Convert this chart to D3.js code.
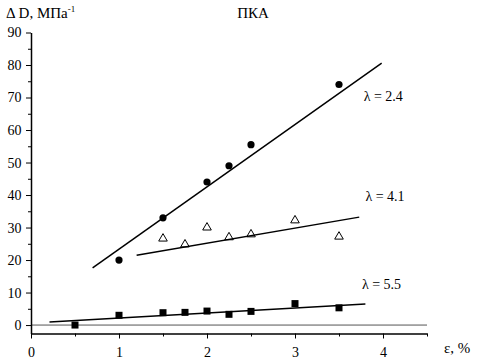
<!DOCTYPE html>
<html><head><meta charset="utf-8">
<script src="https://cdn.jsdelivr.net/npm/d3@7"></script>
<style>body{margin:0;background:#fff}svg{display:block}</style>
</head><body><svg id="c" width="486" height="361"></svg>
<script>
const xTicks = [0, 1, 2, 3, 4];
const yTicks = [0, 10, 20, 30, 40, 50, 60, 70, 80, 90];
const s24x = [1, 1.5, 2, 2.25, 2.5, 3.5];
const s24y = [20, 33, 44, 49, 55.5, 74];
const fit24 = [[0.7, 17.6], [3.985, 80.6]];
const s41x = [1.5, 1.75, 2, 2.25, 2.5, 3, 3.5];
const s41y = [26.6, 24.8, 30, 27, 27.9, 32.2, 27.2];
const fit41 = [[1.2, 21.5], [3.73, 33.2]];
const s55x = [0.5, 1, 1.5, 1.75, 2, 2.25, 2.5, 3, 3.5];
const s55y = [0, 3, 3.8, 3.9, 4.3, 3.3, 4.2, 6.6, 5.3];
const fit55 = [[0.21, 0.95], [3.8, 6.5]];
const labels = [{t: "λ = 2.4", x: 3.78, y: 69}, {t: "λ = 4.1", x: 3.8, y: 38.3}, {t: "λ = 5.5", x: 3.76, y: 11}];
</script>
<script>
const FF = "Liberation Serif";
const svg = d3.select("#c").style("font-family", FF);
const x = d3.scaleLinear().domain([0, 4.5]).range([31, 427]);
const y = d3.scaleLinear().domain([-2.6, 90]).range([333.5, 32.5]);

svg.append("line").attr("x1", x(0)).attr("x2", x(4.5)).attr("y1", y(0)).attr("y2", y(0))
  .attr("stroke", "#555").attr("stroke-width", 1);

const gx = svg.append("g").attr("transform", `translate(0,${y(-2.6)})`)
  .call(d3.axisBottom(x).tickValues(d3.range(0, 4.51, 0.5)).tickSize(5).tickSizeOuter(0)
    .tickFormat(d => xTicks.includes(d) ? d3.format("d")(d) : ""));
const gy = svg.append("g").attr("transform", `translate(${x(0)},0)`)
  .call(d3.axisLeft(y).tickValues(d3.range(0, 90.1, 5)).tickSize(5).tickSizeOuter(0)
    .tickFormat(d => yTicks.includes(d) ? d3.format("d")(d) : ""));
[gx, gy].forEach(g => {
  g.attr("font-family", null).attr("font-size", null);
  g.select(".domain").attr("stroke", "#000").attr("stroke-width", 1.5).attr("fill", "none");
  g.selectAll(".tick line").attr("stroke", "#000").attr("stroke-width", 1);
  g.selectAll("text").style("font-family", FF).style("font-size", "14px").attr("fill", "#000");
});
gx.selectAll(".tick").filter(d => !xTicks.includes(d)).select("line").attr("y2", 3);
gy.selectAll(".tick").filter(d => !yTicks.includes(d)).select("line").attr("x2", -3);
gx.selectAll("text").attr("dy", "1.1em");
gy.selectAll("text").attr("dx", "-0.1em");

const line = d3.line().x(d => x(d[0])).y(d => y(d[1]));
[fit24, fit41, fit55].forEach(f => svg.append("path").attr("d", line(f))
  .attr("stroke", "#000").attr("stroke-width", 1.5).attr("fill", "none"));

svg.selectAll(".c").data(s24x.map((v, i) => [v, s24y[i]])).join("circle")
  .attr("cx", d => x(d[0])).attr("cy", d => y(d[1])).attr("r", 3.6).attr("fill", "#000");
const tri = d3.symbol().type(d3.symbolTriangle).size(32);
svg.selectAll(".t").data(s41x.map((v, i) => [v, s41y[i]])).join("path")
  .attr("transform", d => `translate(${x(d[0])},${y(d[1])})`).attr("d", tri())
  .attr("fill", "none").attr("stroke", "#000").attr("stroke-width", 1);
svg.selectAll(".s").data(s55x.map((v, i) => [v, s55y[i]])).join("rect")
  .attr("x", d => x(d[0]) - 3.5).attr("y", d => y(d[1]) - 3.5).attr("width", 7).attr("height", 7).attr("fill", "#000");

labels.forEach(l => svg.append("text").attr("x", x(l.x)).attr("y", y(l.y))
  .style("font-family", FF).style("font-size", "14px").text(l.t));

svg.append("text").attr("x", 253).attr("y", 18).attr("text-anchor", "middle")
  .style("font-family", FF).style("font-size", "15px").text("ПКА");
const yl = svg.append("text").attr("x", 6).attr("y", 18)
  .style("font-family", FF).style("font-size", "15px");
yl.append("tspan").text("Δ D, МПа");
yl.append("tspan").style("font-size", "9px").attr("dy", -6).text("-1");
svg.append("text").attr("x", 444).attr("y", 353)
  .style("font-family", FF).style("font-size", "15px").text("ε, %");
</script></body></html>
